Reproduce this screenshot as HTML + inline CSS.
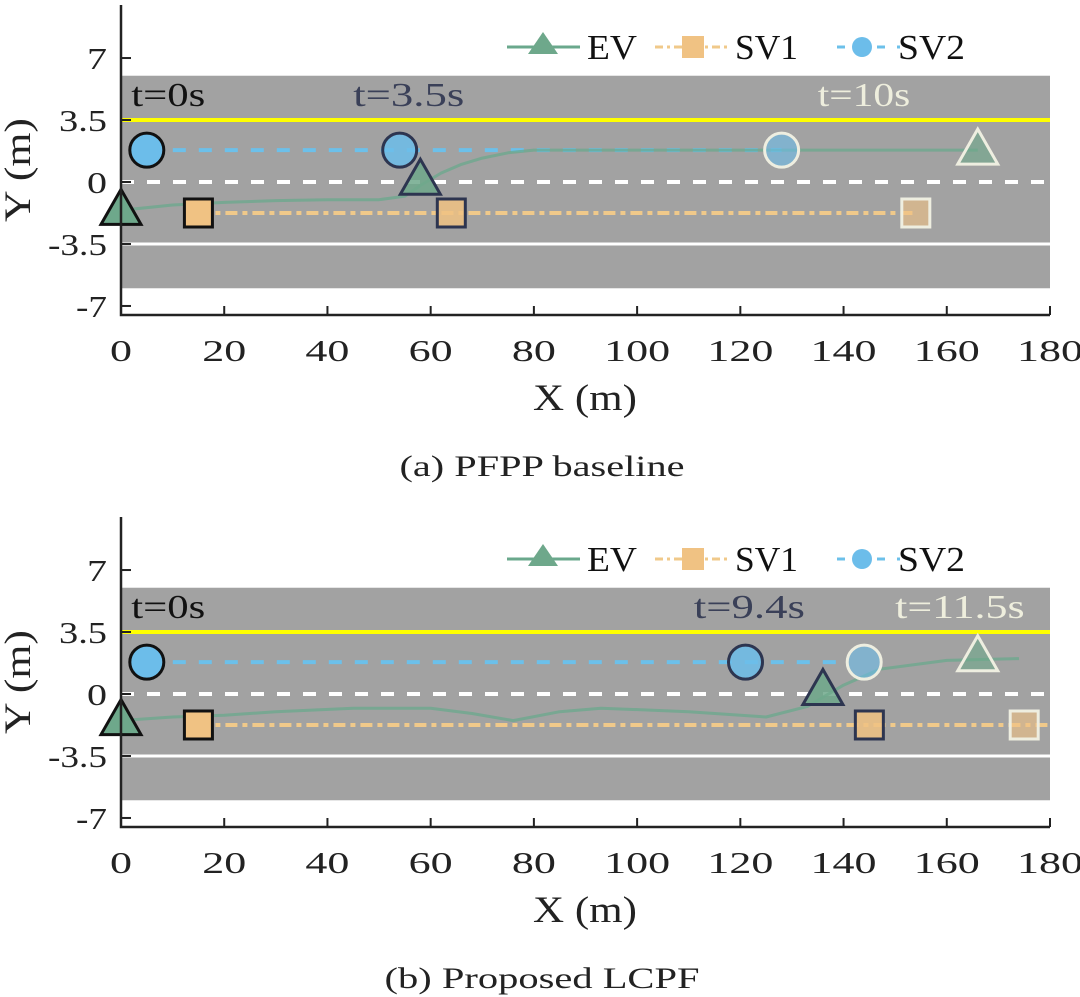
<!DOCTYPE html>
<html><head><meta charset="utf-8"><style>
body{margin:0;background:#fff;}
svg{display:block;}
svg text{font-family:"Liberation Serif","Times New Roman",serif;}
</style></head><body>
<svg id="fig" width="1080" height="997" viewBox="0 0 1080 997" xmlns="http://www.w3.org/2000/svg"></svg>
<script>
// ---- data ----
const xTicks = [0,20,40,60,80,100,120,140,160,180];
const yTicks = [-7,-3.5,0,3.5,7];
const yTickLabels = ["-7","-3.5","0","3.5","7"];
// Panel A (PFPP baseline)
const evPathAx = [0,10,20,30,40,50,55,58,62,66,70,75,80,100,130,166];
const evPathAy = [-1.6,-1.3,-1.15,-1.05,-1.0,-1.0,-0.8,-0.2,0.5,1.0,1.35,1.65,1.8,1.8,1.8,1.8];
const sv1LineA = [15,154]; const sv1YA = -1.75;
const sv2LineA = [5,128]; const sv2YA = 1.8;
const evMarkAx = [0,58,166]; const evMarkAy = [-1.6,0.1,1.8];
const sv1MarkAx = [15,64,154];
const sv2MarkAx = [5,54,128];
const timeLabelsA = ["t=0s","t=3.5s","t=10s"];
const timeLabelXA = [2,45,135];
// Panel B (Proposed LCPF)
const evPathBx = [0,10,20,30,45,60,68,76,85,93,110,125,133,140,147,160,174];
const evPathBy = [-1.5,-1.3,-1.2,-1.0,-0.8,-0.8,-1.1,-1.5,-1.0,-0.8,-1.0,-1.3,-0.7,0.5,1.4,1.9,2.0];
const sv1LineB = [15,180]; const sv1YB = -1.75;
const sv2LineB = [5,140]; const sv2YB = 1.8;
const evMarkBx = [0,136,166]; const evMarkBy = [-1.5,0.2,2.1];
const sv1MarkBx = [15,145,175];
const sv2MarkBx = [5,121,144];
const timeLabelsB = ["t=0s","t=9.4s","t=11.5s"];
const timeLabelXB = [111,150];
const timeLabelXB0 = 2;

const NS="http://www.w3.org/2000/svg";
const svg=document.getElementById('fig');
function el(tag,attrs,parent){const e=document.createElementNS(NS,tag);for(const k in attrs)e.setAttribute(k,attrs[k]);(parent||svg).appendChild(e);return e;}
const X0=121,X1=1050;
const sx=v=>X0+(v-0)/180*(X1-X0);
const PX=17.71;
const CW=21; // approx width per char for stretched text

const stageStroke=["#111","#2d3550","#eeeee0"];
const stageOp=[1,0.85,0.6];
const labelColor=["#111","#3a4058","#eeeedd"];

function panel(off,name,evx,evy,l1,y1,l2,y2,emx,emy,s1x,s2x,tl,tlx,caption,capW){
  const sy=v=>182+off-v*PX;
  const g=el('g',{});
  
  
  const road=el('rect',{x:X0,y:sy(6),width:X1-X0,height:sy(-6)-sy(6),fill:'#a2a2a2'},g);
  
  
  const yl=el('line',{x1:X0,x2:X1,y1:sy(3.5),y2:sy(3.5),stroke:'#ffff00','stroke-width':4},g);
  
  
  const dl=el('line',{x1:X0,x2:X1,y1:sy(0),y2:sy(0),stroke:'#fff','stroke-width':4,'stroke-dasharray':'13 13'},g);
  
  
  const wl=el('line',{x1:X0,x2:X1,y1:sy(-3.5),y2:sy(-3.5),stroke:'#fff','stroke-width':3},g);
  
  
  tl.forEach((t,i)=>{const tx=el('text',{x:sx(tlx[i]),y:sy(4.3),'font-size':34,fill:labelColor[i],textLength:t.length*18.5,lengthAdjust:'spacingAndGlyphs'},g);tx.textContent=t;
    
    });
  const p1=el('line',{x1:sx(l1[0]),x2:sx(l1[1]),y1:sy(y1),y2:sy(y1),stroke:'#f0c98a','stroke-width':4,'stroke-dasharray':'12 5 5 5'},g);
  
  
  const p2=el('line',{x1:sx(l2[0]),x2:sx(l2[1]),y1:sy(y2),y2:sy(y2),stroke:'#6cc0ea','stroke-width':4,'stroke-dasharray':'13 13'},g);
  
  
  let d='';evx.forEach((v,i)=>{d+=(i?'L':'M')+sx(v).toFixed(1)+' '+sy(evy[i]).toFixed(1);});
  const pe=el('path',{d:d,fill:'none',stroke:'#6aa88c','stroke-width':3,'stroke-opacity':0.75,'stroke-linejoin':'round'},g);
  
  
  for(let i=0;i<3;i++){
    const c=el('circle',{cx:sx(s2x[i]),cy:sy(y2),r:17,fill:'#6cbdea','fill-opacity':stageOp[i],stroke:stageStroke[i],'stroke-width':3},g);
    
    
    const s=el('rect',{x:sx(s1x[i])-14,y:sy(y1)-14,width:28,height:28,fill:'#f0c283','fill-opacity':stageOp[i],stroke:stageStroke[i],'stroke-width':3},g);
    
    
    const cx=sx(emx[i]),cy=sy(emy[i]);
    const t=el('polygon',{points:`${cx},${cy-21} ${cx-20},${cy+14} ${cx+20},${cy+14}`,fill:'#6ea88b','fill-opacity':stageOp[i],stroke:stageStroke[i],'stroke-width':3},g);
    
    
  }
  const lg=el('g',{},g);
  
  
  const ly=off+47;
  el('line',{x1:507,x2:580,y1:ly,y2:ly,stroke:'#6aa88c','stroke-width':3},lg);
  el('polygon',{points:`543,${ly-15} 528,${ly+7} 558,${ly+7}`,fill:'#6ea88b'},lg);
  el('line',{x1:655,x2:728,y1:ly,y2:ly,stroke:'#f0c98a','stroke-width':3,'stroke-dasharray':'8 4 3 4'},lg);
  el('rect',{x:682,y:ly-11,width:22,height:22,fill:'#f0c283'},lg);
  el('line',{x1:837,x2:900,y1:ly,y2:ly,stroke:'#6cc0ea','stroke-width':3,'stroke-dasharray':'8 12'},lg);
  el('circle',{cx:862,cy:ly,r:10,fill:'#6cbdea'},lg);
  [['EV',587,50],['SV1',735,63],['SV2',898,67]].forEach(([t,x,w])=>{const tx=el('text',{x:x,y:ly+12,'font-size':35,fill:'#111',textLength:w,lengthAdjust:'spacingAndGlyphs'},lg);tx.textContent=t;
    
    });
  const axY=off+315;
  const ax=el('path',{d:`M${X0} ${off+5} L${X0} ${axY} L${X1} ${axY}`,fill:'none',stroke:'#222','stroke-width':2.5},g);
  
  
  xTicks.forEach(v=>{el('line',{x1:sx(v),x2:sx(v),y1:axY,y2:axY-9,stroke:'#222','stroke-width':2},g);
    const s=String(v);
    const tx=el('text',{x:sx(v),y:axY+46,'font-size':31,'text-anchor':'middle',fill:'#222',textLength:s.length*22,lengthAdjust:'spacingAndGlyphs'},g);tx.textContent=s;
    
    });
  yTicks.forEach((v,i)=>{el('line',{x1:X0,x2:X0+10,y1:sy(v),y2:sy(v),stroke:'#222','stroke-width':2},g);
    const s=yTickLabels[i];
    const w=s.replace('.','').replace('-','').length*20+(s.includes('.')?8:0)+(s.includes('-')?11:0);
    const tx=el('text',{x:X0-14,y:sy(v)+11,'font-size':31,'text-anchor':'end',fill:'#222',textLength:w,lengthAdjust:'spacingAndGlyphs'},g);tx.textContent=s;
    
    });
  const xt=el('text',{x:585,y:off+410,'font-size':37,'text-anchor':'middle',fill:'#222',textLength:104,lengthAdjust:'spacingAndGlyphs'},g);xt.textContent='X (m)';
  
  
  const yt=el('text',{x:0,y:0,'font-size':37,'text-anchor':'middle',fill:'#222',textLength:104,lengthAdjust:'spacingAndGlyphs',transform:`translate(30 ${off+170}) rotate(-90)`},g);yt.textContent='Y (m)';
  
  
  const cp=el('text',{x:542,y:off+476,'font-size':30,'text-anchor':'middle',fill:'#222','xml:space':'preserve',textLength:capW,lengthAdjust:'spacingAndGlyphs'},g);cp.textContent=caption;
  
  
}
panel(0,'panel-pfpp',evPathAx,evPathAy,sv1LineA,sv1YA,sv2LineA,sv2YA,evMarkAx,evMarkAy,sv1MarkAx,sv2MarkAx,timeLabelsA,timeLabelXA,'(a)  PFPP baseline',285);
panel(512,'panel-lcpf',evPathBx,evPathBy,sv1LineB,sv1YB,sv2LineB,sv2YB,evMarkBx,evMarkBy,sv1MarkBx,sv2MarkBx,timeLabelsB,[timeLabelXB0].concat(timeLabelXB),'(b)  Proposed LCPF',315);
</script>
</body></html>
